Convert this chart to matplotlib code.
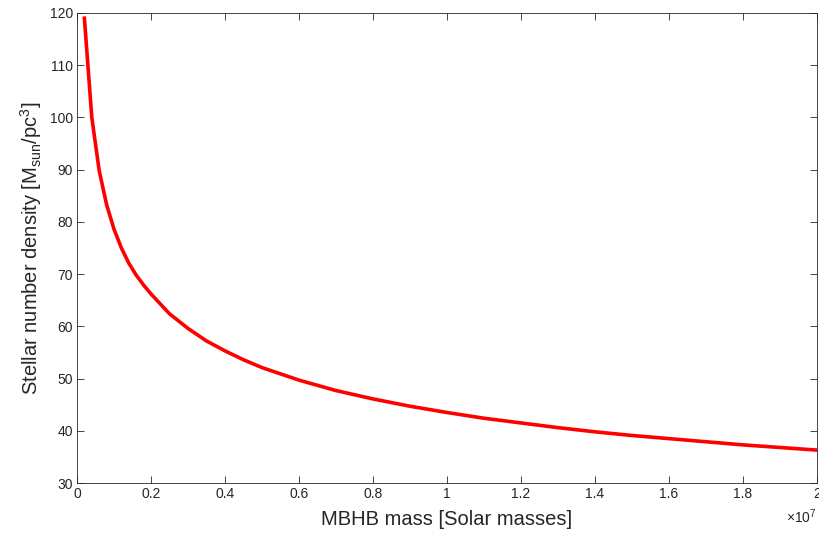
import matplotlib
matplotlib.use("Agg")
import matplotlib.pyplot as plt
from matplotlib.ticker import FuncFormatter, MultipleLocator

# MBHB mass in solar masses and the stellar density
mass = [0.02e7, 0.04e7, 0.06e7, 0.08e7, 0.10e7, 0.12e7, 0.14e7, 0.16e7,
        0.18e7, 0.20e7, 0.25e7, 0.30e7, 0.35e7, 0.40e7, 0.45e7, 0.50e7,
        0.60e7, 0.70e7, 0.80e7, 0.90e7, 1.00e7, 1.10e7, 1.20e7, 1.30e7,
        1.40e7, 1.50e7, 1.60e7, 1.70e7, 1.80e7, 1.90e7, 2.00e7]
density = [119.0, 100.0, 89.8, 83.3, 78.6, 75.0, 72.1, 69.8,
           67.9, 66.2, 62.4, 59.6, 57.2, 55.3, 53.6, 52.1,
           49.7, 47.7, 46.1, 44.7, 43.5, 42.4, 41.5, 40.6,
           39.8, 39.1, 38.5, 37.9, 37.3, 36.8, 36.3]

plt.rcParams['font.family'] = ['Liberation Sans', 'DejaVu Sans']
plt.rcParams['mathtext.fontset'] = 'custom'
plt.rcParams['mathtext.rm'] = 'Liberation Sans'
plt.rcParams['mathtext.it'] = 'Liberation Sans:italic'

axis_col = '#262626'

fig = plt.figure(figsize=(8.2, 5.34), dpi=100)
ax = fig.add_axes([0.0939, 0.0955, 0.9024, 0.8802])

ax.plot(mass, density, color='red', linewidth=2.6, solid_joinstyle='round')

ax.set_xlim(0, 2e7)
ax.set_ylim(30, 120)
ax.xaxis.set_major_locator(MultipleLocator(0.2e7))
ax.yaxis.set_major_locator(MultipleLocator(10))
ax.xaxis.set_major_formatter(FuncFormatter(lambda v, p: '%g' % round(v / 1e7, 3)))

ax.tick_params(direction='in', length=5, width=0.6, colors=axis_col,
               labelsize=10, top=True, right=True, pad=3)
for sp in ax.spines.values():
    sp.set_color(axis_col)
    sp.set_linewidth(0.6)

ax.set_xlabel('MBHB mass [Solar masses]', fontsize=14.5, color=axis_col, labelpad=6)
ax.set_ylabel(r'Stellar number density [M$_{\rm sun}$/pc$^{3}$]', fontsize=14.5,
              color=axis_col, labelpad=4)

ax.text(1.0, -0.052, r'$\times$10$^{7}$', transform=ax.transAxes,
        ha='right', va='top', fontsize=10, color=axis_col)

fig.savefig('out.png', dpi=100)
